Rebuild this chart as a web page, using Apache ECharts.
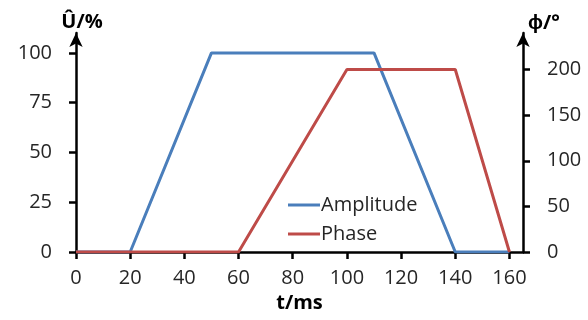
<!DOCTYPE html>
<html>
<head>
<meta charset="utf-8">
<script src="https://cdn.jsdelivr.net/npm/echarts@6/dist/echarts.min.js"></script>
<style>
  html, body { margin: 0; padding: 0; background: #fff; }
  #chart { width: 588px; height: 320px; }
</style>
</head>
<body>
<div id="chart"></div>
<script>
// data
var timeTicks = [0, 20, 40, 60, 80, 100, 120, 140, 160];
var ampTicks = [0, 25, 50, 75, 100];
var phaseTicks = [0, 50, 100, 150, 200];

var ampTime = [0, 20, 50, 110, 140, 160];
var ampValue = [0, 0, 100, 100, 0, 0];
var phaseTime = [0, 60, 100, 140, 160];
var phaseValue = [0, 0, 200, 200, 0];

function pairs(xs, ys) {
  return xs.map(function (x, i) { return [x, ys[i]]; });
}

var font = "'Open Sans', sans-serif";
var chart = echarts.init(document.getElementById("chart"));
var option = {
  animation: false,
  grid: { left: 76, right: 65, top: 33, bottom: 68 },
  legend: {
    orient: "vertical",
    left: 283,
    top: 190,
    icon: "rect",
    itemWidth: 32,
    itemHeight: 3,
    itemGap: 9,
    textStyle: { fontFamily: font, fontSize: 20, color: "#262626", padding: [0, 0, 0, -4] },
    data: ["Amplitude", "Phase"],
  },
  xAxis: {
    type: "value",
    min: 0,
    max: 165,
    name: "t/ms",
    nameLocation: "middle",
    nameGap: 40,
    nameTextStyle: { fontFamily: font, fontSize: 20, fontWeight: "bold", color: "#000" },
    axisLine: { lineStyle: { color: "#000", width: 2.5 } },
    axisTick: { length: 7, lineStyle: { color: "#000", width: 2.5 }, customValues: timeTicks },
    axisLabel: { fontFamily: font, fontSize: 20, color: "#262626", margin: 16, customValues: timeTicks },
    splitLine: { show: false },
  },
  yAxis: [
    {
      type: "value",
      min: 0,
      max: 110,
      name: "Û/%",
      nameGap: 1,
      nameTextStyle: { fontFamily: font, fontSize: 20, fontWeight: "bold", color: "#000", padding: [0, 0, 0, 12] },
      axisLine: { show: true, symbol: ["none", "arrow"], symbolSize: [10, 14], lineStyle: { color: "#000", width: 2.5 } },
      axisTick: { show: true, length: 7, lineStyle: { color: "#000", width: 2.5 }, customValues: ampTicks },
      axisLabel: { fontFamily: font, fontSize: 20, color: "#262626", margin: 24, customValues: ampTicks },
      splitLine: { show: false },
    },
    {
      type: "value",
      min: 0,
      max: 240,
      position: "right",
      name: "ϕ/°",
      nameGap: 0,
      nameTextStyle: { fontFamily: font, fontSize: 20, fontWeight: "bold", color: "#000", padding: [0, 0, 0, 42] },
      axisLine: { show: true, symbol: ["none", "arrow"], symbolSize: [10, 14], lineStyle: { color: "#000", width: 2.5 } },
      axisTick: { show: true, length: 7, lineStyle: { color: "#000", width: 2.5 }, customValues: phaseTicks },
      axisLabel: { fontFamily: font, fontSize: 20, color: "#262626", margin: 24, customValues: phaseTicks },
      splitLine: { show: false },
    },
  ],
  series: [
    {
      name: "Amplitude",
      type: "line",
      yAxisIndex: 0,
      showSymbol: false,
      color: "#4a7ebb",
      lineStyle: { width: 3 },
      data: pairs(ampTime, ampValue),
    },
    {
      name: "Phase",
      type: "line",
      yAxisIndex: 1,
      showSymbol: false,
      color: "#be4b48",
      lineStyle: { width: 3 },
      data: pairs(phaseTime, phaseValue),
    },
  ],
};
chart.setOption(option);
</script>
</body>
</html>
